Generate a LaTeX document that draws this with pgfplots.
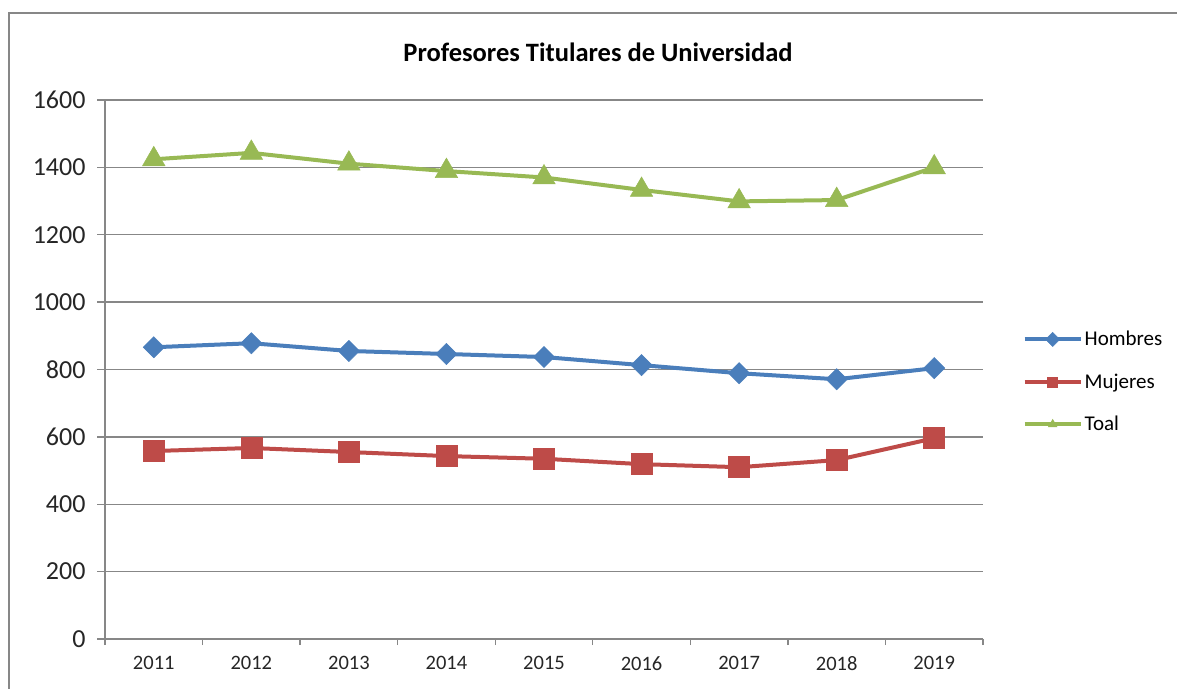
\documentclass[border=0pt]{standalone}
\usepackage{pgfplots}
\pgfplotsset{compat=1.18}
\usepackage{fontspec}
\setmainfont{Carlito}
\definecolor{hblue}{HTML}{4A7EBB}
\definecolor{mred}{HTML}{BE4B48}
\definecolor{tgreen}{HTML}{98B954}
\definecolor{axgray}{HTML}{878787}
\begin{document}
\begin{tikzpicture}
\path[use as bounding box] (0,0) rectangle (1177bp,689bp);
\draw[axgray, line width=2bp] (9bp,-20bp) -- (9bp,676bp) -- (1200bp,676bp);
\node[font=\fontsize{26.5bp}{30bp}\selectfont\bfseries] at (598bp,637bp) {Profesores Titulares de Universidad};
\begin{axis}[
  at={(105bp,50bp)}, anchor=south west,
  scale only axis, width=878bp, height=539bp,
  xmin=0.5, xmax=9.5, ymin=0, ymax=1600,
  axis x line*=bottom, axis y line*=left,
  axis line style={axgray, line width=1.3bp},
  xtick={1,...,9},
  xticklabels={2011,2012,2013,2014,2015,2016,2017,2018,2019},
  minor xtick={0.5,1.5,...,9.5},
  major x tick style={draw=none},
  minor x tick style={axgray, line width=1.3bp},
  minor tick length=6bp,
  ytick={0,200,...,1600},
  major tick length=8bp,
  y tick style={axgray, line width=1.3bp},
  tick align=outside,
  ymajorgrids=true,
  major grid style={axgray, line width=1.3bp},
  xticklabel style={font=\fontsize{20.5bp}{24bp}\selectfont, text=black!85, yshift=-6bp},
  yticklabel style={font=\fontsize{26bp}{30bp}\selectfont, text=black!85, xshift=-8bp,
    /pgf/number format/.cd, 1000 sep={}, assume math mode=true},
  legend style={draw=none, fill=none, at={(axis description cs:1.045,0.477)}, anchor=west,
    font=\fontsize{21bp}{24bp}\selectfont, row sep=22.5bp, inner sep=0pt,
    /tikz/every even column/.append style={column sep=4bp}},
  legend cell align=left,
  legend image code/.code={
    \draw[#1, mark size=5bp, mark repeat=2, mark phase=2] plot coordinates {(0bp,0bp) (28bp,0bp) (56bp,0bp)};
  },
]
\addplot[hblue, line width=4bp, mark=square*, mark size=7.5bp, mark options={rotate=45, line width=0.5bp}]
  coordinates {(1,866) (2,878) (3,855) (4,846) (5,837) (6,813) (7,789) (8,771) (9,804)};
\addlegendentry{Hombres}
\addplot[mred, line width=4bp, mark=square*, mark size=10.5bp, mark options={line width=0.5bp}]
  coordinates {(1,558) (2,567) (3,555) (4,543) (5,535) (6,519) (7,510) (8,531) (9,596)};
\addlegendentry{Mujeres}
\addplot[tgreen, line width=4bp, mark=triangle*, mark size=13bp, mark options={line width=0.5bp}]
  coordinates {(1,1424) (2,1443) (3,1411) (4,1389) (5,1370) (6,1333) (7,1299) (8,1303) (9,1400)};
\addlegendentry{Toal}
\end{axis}
\end{tikzpicture}
\end{document}
